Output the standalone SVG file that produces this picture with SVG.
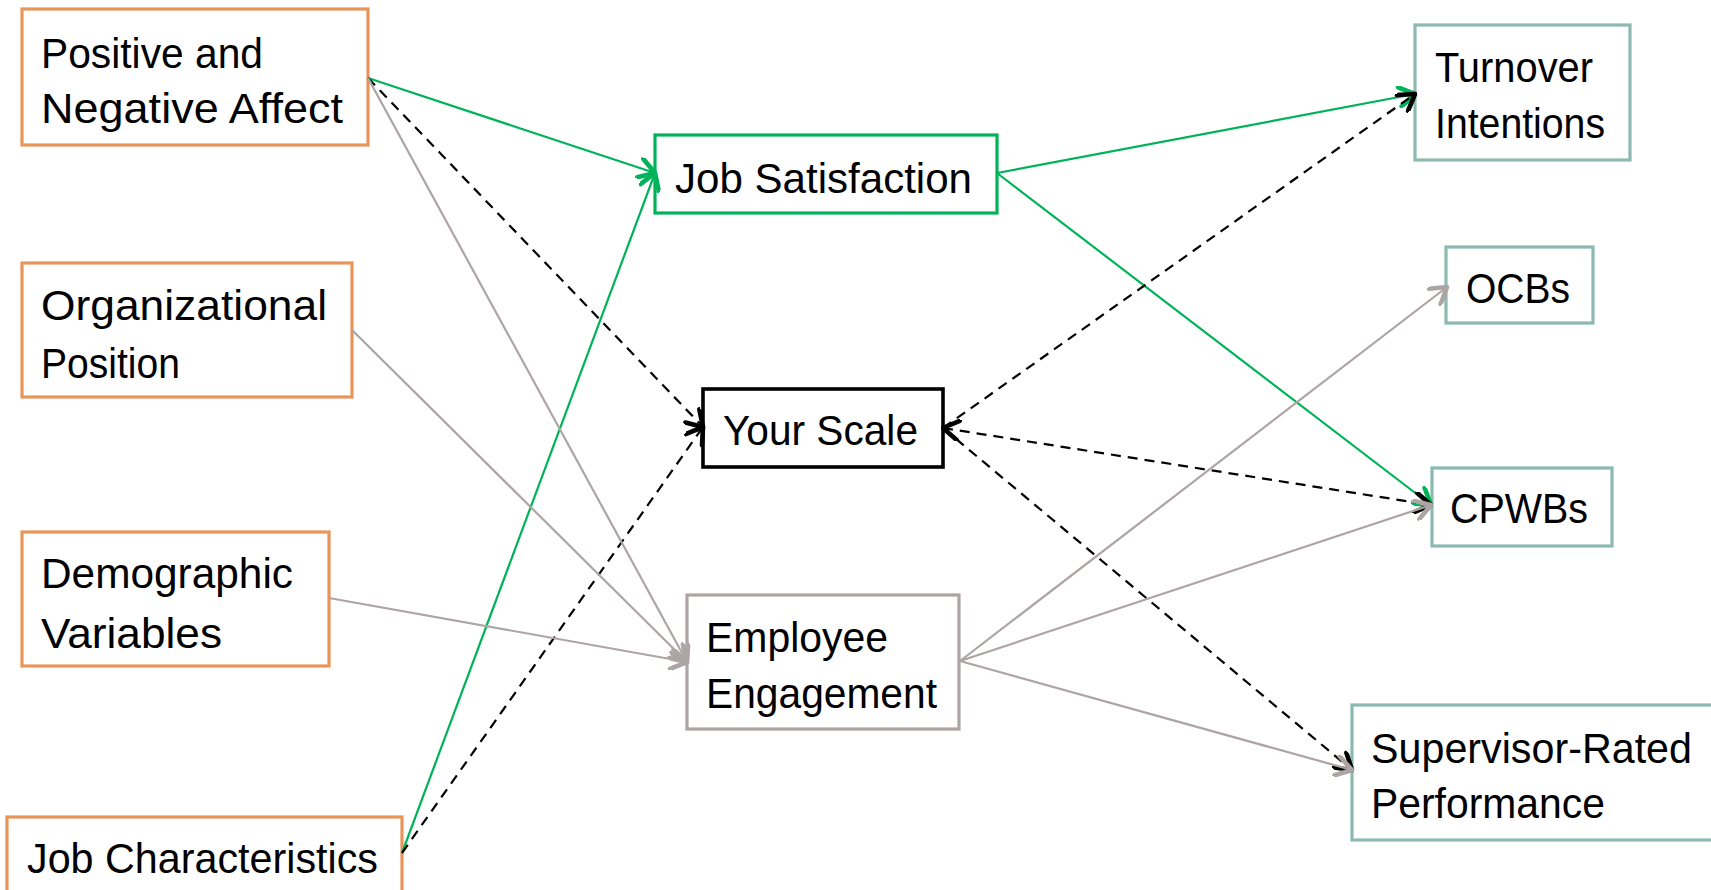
<svg xmlns="http://www.w3.org/2000/svg" width="1711" height="890" viewBox="0 0 1711 890">
  <style>
    .box { fill: #ffffff; stroke-width: 3.2; }
    .src { stroke: #E8955A; }
    .out { stroke: #8CBAB0; }
    .sat { stroke: #00B358; }
    .eng { stroke: #ADA4A4; }
    .scale { stroke: #000000; stroke-width: 3.6; }
    .lbl { font-family: "Liberation Sans", Arial, sans-serif; font-size: 43px; fill: #000000; }
    .ln { fill: none; stroke-width: 2.2; }
    .green { stroke: #00B358; }
    .gray { stroke: #ADA4A4; }
    .dash { stroke: #000000; stroke-dasharray: 10 7; }
  </style>
  <defs>
    <marker id="ah-green" viewBox="0 0 10 10" refX="9" refY="5" markerUnits="userSpaceOnUse" markerWidth="22" markerHeight="22" orient="auto-start-reverse">
      <path d="M2,0.6 L9,5 L2,9.4" fill="none" stroke="#00B358" stroke-width="2.1" stroke-linecap="round" stroke-linejoin="round"/>
    </marker>
    <marker id="ah-gray" viewBox="0 0 10 10" refX="9" refY="5" markerUnits="userSpaceOnUse" markerWidth="22" markerHeight="22" orient="auto-start-reverse">
      <path d="M2,0.6 L9,5 L2,9.4" fill="none" stroke="#ADA4A4" stroke-width="2.1" stroke-linecap="round" stroke-linejoin="round"/>
    </marker>
    <marker id="ah-black" viewBox="0 0 10 10" refX="9" refY="5" markerUnits="userSpaceOnUse" markerWidth="22" markerHeight="22" orient="auto-start-reverse">
      <path d="M2,0.6 L9,5 L2,9.4" fill="none" stroke="#000000" stroke-width="2.1" stroke-linecap="round" stroke-linejoin="round" stroke-dasharray="none"/>
    </marker>
  </defs>

  <!-- antecedents -->
  <g id="node-affect">
    <rect class="box src" x="22" y="9" width="346" height="136"/>
    <text class="lbl" x="41" y="68" textLength="222" lengthAdjust="spacingAndGlyphs">Positive and</text>
    <text class="lbl" x="41" y="123" textLength="302" lengthAdjust="spacingAndGlyphs">Negative Affect</text>
  </g>
  <g id="node-position">
    <rect class="box src" x="22" y="263" width="330" height="134"/>
    <text class="lbl" x="41" y="320" textLength="286" lengthAdjust="spacingAndGlyphs">Organizational</text>
    <text class="lbl" x="41" y="378" textLength="139" lengthAdjust="spacingAndGlyphs">Position</text>
  </g>
  <g id="node-demographic">
    <rect class="box src" x="22" y="532" width="307" height="134"/>
    <text class="lbl" x="41" y="588" textLength="252" lengthAdjust="spacingAndGlyphs">Demographic</text>
    <text class="lbl" x="41" y="648" textLength="181" lengthAdjust="spacingAndGlyphs">Variables</text>
  </g>
  <g id="node-jobchar">
    <rect class="box src" x="7" y="817" width="395" height="100"/>
    <text class="lbl" x="27" y="873" textLength="351" lengthAdjust="spacingAndGlyphs">Job Characteristics</text>
  </g>

  <!-- mediators -->
  <g id="node-jobsat">
    <rect class="box sat" x="655" y="135" width="342" height="78"/>
    <text class="lbl" x="675" y="193" textLength="297" lengthAdjust="spacingAndGlyphs">Job Satisfaction</text>
  </g>
  <g id="node-scale">
    <rect class="box scale" x="703" y="389" width="240" height="78"/>
    <text class="lbl" x="723" y="445" textLength="195" lengthAdjust="spacingAndGlyphs">Your Scale</text>
  </g>
  <g id="node-engagement">
    <rect class="box eng" x="687" y="595" width="272" height="134"/>
    <text class="lbl" x="706" y="652" textLength="182" lengthAdjust="spacingAndGlyphs">Employee</text>
    <text class="lbl" x="706" y="708" textLength="231" lengthAdjust="spacingAndGlyphs">Engagement</text>
  </g>

  <!-- outcomes -->
  <g id="node-turnover">
    <rect class="box out" x="1415" y="25" width="215" height="135"/>
    <text class="lbl" x="1435" y="82" textLength="158" lengthAdjust="spacingAndGlyphs">Turnover</text>
    <text class="lbl" x="1435" y="138" textLength="170" lengthAdjust="spacingAndGlyphs">Intentions</text>
  </g>
  <g id="node-ocb">
    <rect class="box out" x="1446" y="247" width="147" height="76"/>
    <text class="lbl" x="1466" y="303" textLength="104" lengthAdjust="spacingAndGlyphs">OCBs</text>
  </g>
  <g id="node-cpwb">
    <rect class="box out" x="1432" y="468" width="180" height="78"/>
    <text class="lbl" x="1450" y="523" textLength="138" lengthAdjust="spacingAndGlyphs">CPWBs</text>
  </g>
  <g id="node-performance">
    <rect class="box out" x="1352" y="705" width="372" height="135"/>
    <text class="lbl" x="1371" y="763" textLength="321" lengthAdjust="spacingAndGlyphs">Supervisor-Rated</text>
    <text class="lbl" x="1371" y="818" textLength="234" lengthAdjust="spacingAndGlyphs">Performance</text>
  </g>

  <!-- paths between constructs -->
  <g id="connectors">
    <!-- into job satisfaction -->
    <line class="ln green" x1="368" y1="78" x2="655" y2="173" marker-end="url(#ah-green)"/>
    <line class="ln green" x1="402" y1="853" x2="655" y2="173" marker-end="url(#ah-green)"/>
    <!-- into the new scale -->
    <line class="ln dash" x1="368" y1="78" x2="703" y2="427" marker-end="url(#ah-black)"/>
    <line class="ln dash" x1="402" y1="853" x2="703" y2="427" marker-end="url(#ah-black)"/>
    <!-- into engagement -->
    <line class="ln gray" x1="368" y1="78" x2="687" y2="662" marker-end="url(#ah-gray)"/>
    <line class="ln gray" x1="352" y1="330" x2="687" y2="662" marker-end="url(#ah-gray)"/>
    <line class="ln gray" x1="329" y1="598" x2="687" y2="662" marker-end="url(#ah-gray)"/>
    <!-- job satisfaction to outcomes -->
    <line class="ln green" x1="997" y1="173" x2="1415" y2="94" marker-end="url(#ah-green)"/>
    <line class="ln green" x1="997" y1="173" x2="1431" y2="505" marker-end="url(#ah-green)"/>
    <!-- scale to outcomes -->
    <line class="ln dash" x1="943" y1="428" x2="1415" y2="94" marker-end="url(#ah-black)"/>
    <line class="ln dash" x1="943" y1="428" x2="1431" y2="505" marker-start="url(#ah-black)" marker-end="url(#ah-black)"/>
    <line class="ln dash" x1="943" y1="428" x2="1352" y2="770" marker-end="url(#ah-black)"/>
    <!-- engagement to outcomes -->
    <line class="ln gray" x1="960" y1="661" x2="1447" y2="287" marker-end="url(#ah-gray)"/>
    <line class="ln gray" x1="960" y1="661" x2="1431" y2="505" marker-end="url(#ah-gray)"/>
    <line class="ln gray" x1="960" y1="661" x2="1352" y2="770" marker-end="url(#ah-gray)"/>
  </g>
</svg>
